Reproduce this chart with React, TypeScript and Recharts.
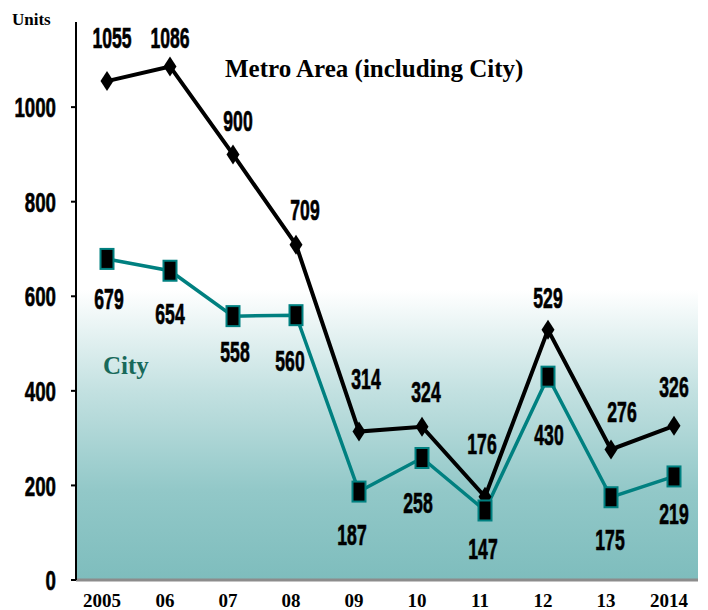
import React from 'react';
import { LineChart, Line, XAxis, YAxis, CartesianGrid, LabelList } from 'recharts';

const years = ['2005', '06', '07', '08', '09', '10', '11', '12', '13', '2014'];
const metroUnits = [1055, 1086, 900, 709, 314, 324, 176, 529, 276, 326];
const cityUnits = [679, 654, 558, 560, 187, 258, 147, 430, 175, 219];
const yTicks = [0, 200, 400, 600, 800, 1000];

const data = years.map((year, i) => ({ year, metro: metroUnits[i], city: cityUnits[i] }));

// where each value label sits relative to its point (dx, dy)
const metroLabelShift = [[5, -44], [0, -29], [5, -34], [9, -35], [7, -53], [4, -35], [-3, -53], [0, -33], [11, -38], [0, -40]];
const cityLabelShift = [[2, 39], [0, 43], [2, 35], [-6, 45], [-7, 43], [-4, 44], [-2, 38], [1, 58], [-1, 42], [0, 37]];

const TEAL = '#008080';
const narrow = 'Liberation Sans, Arial, sans-serif';
const serif = 'Liberation Serif, Times New Roman, serif';

const Diamond = (props: any) => {
  const { cx, cy } = props;
  if (cx == null || cy == null) return null;
  return <polygon points={`${cx},${cy - 10} ${cx + 6.5},${cy} ${cx},${cy + 10} ${cx - 6.5},${cy}`} fill="#000" />;
};

const Block = (props: any) => {
  const { cx, cy } = props;
  if (cx == null || cy == null) return null;
  return <rect x={cx - 6.5} y={cy - 10} width={13} height={20} fill="#000" stroke={TEAL} strokeWidth={2} />;
};

const makeLabel = (shift: number[][]) => (props: any) => {
  const { x, y, value, index } = props;
  const [dx, dy] = shift[index] || [0, 0];
  return (
    <text
      transform={`translate(${x + dx},${y + dy}) scale(0.8,1.35)`}
      y={7.9}
      textAnchor="middle"
      fontFamily={narrow}
      fontWeight="bold"
      fontSize={22}
      fill="#000"
      stroke="#000"
      strokeWidth={0.5}
    >
      {value}
    </text>
  );
};

const YTick = (props: any) => {
  const { x, y, payload } = props;
  return (
    <text
      transform={`translate(${x - 13},${y}) scale(0.85,1.28)`}
      y={7.9}
      textAnchor="end"
      fontFamily={narrow}
      fontWeight="bold"
      fontSize={22}
      fill="#000"
      stroke="#000"
      strokeWidth={0.5}
    >
      {payload.value}
    </text>
  );
};

const XTick = (props: any) => {
  const { x, y, payload } = props;
  return (
    <text x={x - 5} y={y + 19} textAnchor="middle" fontFamily={serif} fontWeight="bold" fontSize={19} fill="#000">
      {payload.value}
    </text>
  );
};

export default function App() {
  return (
    <div style={{ position: 'absolute', left: 0, top: 0, width: 708, height: 610, background: '#fff' }}>
      <LineChart width={708} height={610} data={data} margin={{ top: 22, right: 10, bottom: 0, left: 0 }}>
        <defs>
          <linearGradient id="bgFade" x1="0" y1="0" x2="0" y2="1">
            <stop offset="0" stopColor="#ffffff" />
            <stop offset="0.48" stopColor="#ffffff" />
            <stop offset="0.66" stopColor="#c3e1e1" />
            <stop offset="0.84" stopColor="#92c8c8" />
            <stop offset="1" stopColor="#7ebdbd" />
          </linearGradient>
        </defs>
        <CartesianGrid horizontal={false} vertical={false} fill="url(#bgFade)" fillOpacity={1} />
        <XAxis
          dataKey="year"
          scale="point"
          padding={{ left: 31, right: 24 }}
          height={30}
          tickLine={false}
          axisLine={{ stroke: '#8c8c8c', strokeWidth: 3 }}
          tick={<XTick />}
          interval={0}
        />
        <YAxis
          width={76}
          domain={[0, 1180]}
          ticks={yTicks}
          tickSize={5}
          axisLine={{ stroke: '#000', strokeWidth: 2 }}
          tickLine={{ stroke: '#000', strokeWidth: 2 }}
          tick={<YTick />}
        />
        <Line
          dataKey="metro"
          stroke="#000"
          strokeWidth={4}
          dot={<Diamond />}
          activeDot={false}
          isAnimationActive={false}
        >
          <LabelList dataKey="metro" content={makeLabel(metroLabelShift)} />
        </Line>
        <Line
          dataKey="city"
          stroke={TEAL}
          strokeWidth={3.5}
          dot={<Block />}
          activeDot={false}
          isAnimationActive={false}
        >
          <LabelList dataKey="city" content={makeLabel(cityLabelShift)} />
        </Line>
      </LineChart>
      <svg width={708} height={610} style={{ position: 'absolute', left: 0, top: 0, pointerEvents: 'none' }}>
        <text x={12} y={25} fontFamily={serif} fontWeight="bold" fontSize={17} fill="#000">Units</text>
        <text x={225} y={77} fontFamily={serif} fontWeight="bold" fontSize={25} fill="#000">Metro Area (including City)</text>
        <text x={103} y={374} fontFamily={serif} fontWeight="bold" fontSize={25} fill="#17695a">City</text>
      </svg>
    </div>
  );
}
